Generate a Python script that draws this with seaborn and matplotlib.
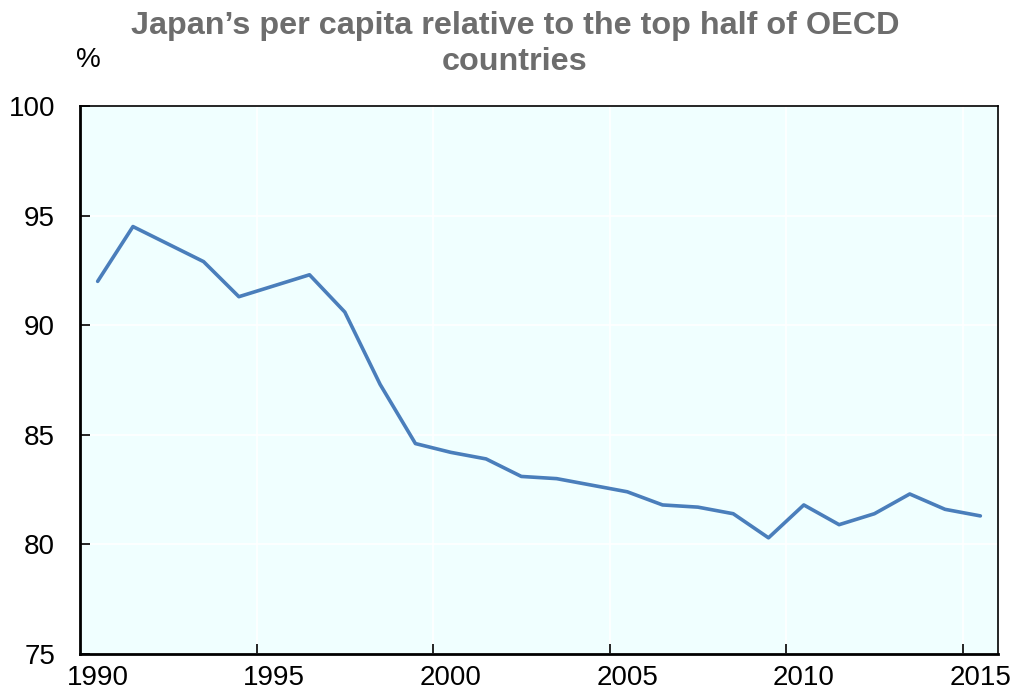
import matplotlib
matplotlib.use("Agg")
import matplotlib.pyplot as plt
import seaborn as sns
import pandas as pd
from matplotlib import font_manager as fm

years = list(range(1990, 2016))
values = [92.0, 94.5, 93.7, 92.9, 91.3, 91.8, 92.3, 90.6, 87.3, 84.6,
          84.2, 83.9, 83.1, 83.0, 82.7, 82.4, 81.8, 81.7, 81.4, 80.3,
          81.8, 80.9, 81.4, 82.3, 81.6, 81.3]
tick_years = [1990, 1995, 2000, 2005, 2010, 2015]
y_ticks = [75, 80, 85, 90, 95, 100]
title = "Japan\u2019s per capita relative to the top half of OECD\ncountries"
y_unit = "%"

df = pd.DataFrame({"year": years, "value": values})

sns.set_theme(style="white")
names = {f.name for f in fm.fontManager.ttflist}
narrow = "Liberation Sans Narrow" if "Liberation Sans Narrow" in names else "Liberation Sans"
plt.rcParams["font.family"] = ["Liberation Sans", "DejaVu Sans"]

fig = plt.figure(figsize=(10.10, 6.96), dpi=100)
ax = fig.add_axes([80/1010, 1 - 654/696, (998-80)/1010, (654-106)/696])
ax.set_facecolor("#F0FFFF")

sns.lineplot(data=df, x="year", y="value", ax=ax, color="#4A7EBB", linewidth=2.6)

ax.set_xlim(1989.5, 2015.5)
ax.set_ylim(75, 100)
ax.set_xticks(tick_years)
ax.set_xticklabels([str(t) for t in tick_years])
ax.set_xticks([t - 0.5 for t in tick_years[1:]], minor=True)
ax.set_yticks(y_ticks)
ax.set_yticklabels([str(t) for t in y_ticks])

ax.tick_params(axis="x", which="major", length=0, pad=8, labelsize=20, labelcolor="black")
ax.tick_params(axis="x", which="minor", direction="in", length=7, width=1.2, color="black", bottom=True)
ax.tick_params(axis="y", which="major", direction="in", length=7, width=1.2, color="black", pad=18,
               labelsize=20, labelcolor="black", left=True)
for lab in ax.get_xticklabels() + ax.get_yticklabels():
    lab.set_family([narrow, "DejaVu Sans"])

ax.grid(False)
ax.yaxis.grid(True, color="white", linewidth=1.2)
ax.xaxis.grid(True, which="minor", color="white", linewidth=1.2)
ax.set_axisbelow(True)

for side in ["left", "bottom", "top", "right"]:
    ax.spines[side].set_visible(True)
    ax.spines[side].set_color("black")
ax.spines["left"].set_linewidth(2)
ax.spines["bottom"].set_linewidth(2)
ax.spines["top"].set_linewidth(1.2)
ax.spines["right"].set_linewidth(1.2)

ax.set_xlabel("")
ax.set_ylabel("")

fig.text(515/1010, 1 - 11/696, title, ha="center", va="top", fontsize=23.3, fontweight="bold",
         color="#6D6D6D", linespacing=1.28)
fig.text(88/1010, 1 - 60/696, y_unit, ha="center", va="center", fontsize=20,
         color="black", family=[narrow, "DejaVu Sans"])

fig.savefig("out.png", dpi=100)
